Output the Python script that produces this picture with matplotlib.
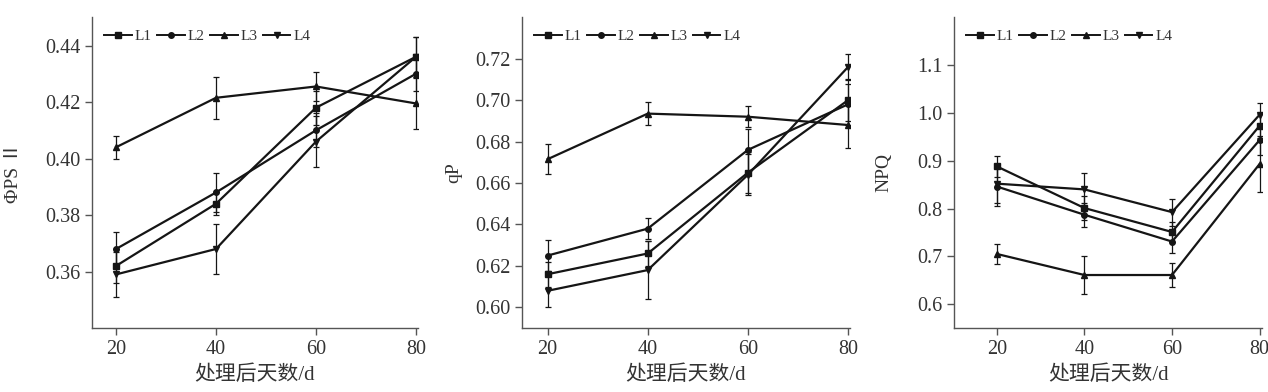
import numpy as np
import matplotlib
matplotlib.use("Agg")
import matplotlib.pyplot as plt
from matplotlib.ticker import FormatStrFormatter
from matplotlib.lines import Line2D

plt.rcParams["font.family"] = ["Liberation Serif", "Noto Sans CJK SC", "DejaVu Sans"]

# ------------------------------------------------------------
# Data
# ------------------------------------------------------------
days = [20, 40, 60, 80]
series = ["L1", "L2", "L3", "L4"]
markers = ["s", "o", "^", "v"]
msizes = [5, 4, 5, 5]

# Phi PSII
phi_L1 = [0.362, 0.384, 0.418, 0.436]
phi_L2 = [0.368, 0.388, 0.410, 0.430]
phi_L3 = [0.404, 0.4215, 0.4255, 0.4195]
phi_L4 = [0.359, 0.368, 0.406, 0.436]
phi_err_L1 = [0.006, 0.004, 0.006, 0.007]
phi_err_L2 = [0.006, 0.007, 0.006, 0.006]
phi_err_L3 = [0.004, 0.0075, 0.005, 0.009]
phi_err_L4 = [0.008, 0.009, 0.009, 0.007]

# qP
qp_L1 = [0.616, 0.626, 0.665, 0.700]
qp_L2 = [0.625, 0.638, 0.676, 0.698]
qp_L3 = [0.6715, 0.6935, 0.692, 0.688]
qp_L4 = [0.608, 0.618, 0.664, 0.716]
qp_err_L1 = [0.006, 0.006, 0.010, 0.010]
qp_err_L2 = [0.0075, 0.005, 0.010, 0.010]
qp_err_L3 = [0.0073, 0.0056, 0.005, 0.011]
qp_err_L4 = [0.008, 0.014, 0.010, 0.0065]

# NPQ
npq_L1 = [0.888, 0.801, 0.751, 0.973]
npq_L2 = [0.846, 0.787, 0.731, 0.943]
npq_L3 = [0.705, 0.661, 0.661, 0.893]
npq_L4 = [0.852, 0.840, 0.7925, 0.996]
npq_err_L1 = [0.022, 0.025, 0.020, 0.025]
npq_err_L2 = [0.040, 0.025, 0.025, 0.030]
npq_err_L3 = [0.020, 0.040, 0.025, 0.058]
npq_err_L4 = [0.040, 0.035, 0.028, 0.024]

xlabel = "处理后天数/d"

panels = [
    dict(vals=[phi_L1, phi_L2, phi_L3, phi_L4],
         errs=[phi_err_L1, phi_err_L2, phi_err_L3, phi_err_L4],
         ylabel="ΦPS Ⅱ", ylim=(0.34, 0.45), yticks=np.arange(0.36, 0.441, 0.02),
         fmt="%.2f", xlim=(15.2, 80.4), pos=[0.0726, 0.163, 0.257, 0.793], ylab_x=-0.215),
    dict(vals=[qp_L1, qp_L2, qp_L3, qp_L4],
         errs=[qp_err_L1, qp_err_L2, qp_err_L3, qp_err_L4],
         ylabel="qP", ylim=(0.59, 0.74), yticks=np.arange(0.60, 0.721, 0.02),
         fmt="%.2f", xlim=(14.9, 80.4), pos=[0.4117, 0.163, 0.2587, 0.793], ylab_x=-0.183),
    dict(vals=[npq_L1, npq_L2, npq_L3, npq_L4],
         errs=[npq_err_L1, npq_err_L2, npq_err_L3, npq_err_L4],
         ylabel="NPQ", ylim=(0.55, 1.2), yticks=np.arange(0.6, 1.11, 0.1),
         fmt="%.1f", xlim=(10.2, 80.6), pos=[0.7524, 0.163, 0.243, 0.793], ylab_x=-0.201),
]

fig = plt.figure(figsize=(12.68, 3.92), dpi=100)
ink = "#151515"
spine_c = "#555555"
text_c = "#333333"

for p in panels:
    ax = fig.add_axes(p["pos"])
    for mk, ms, v, e in zip(markers, msizes, p["vals"], p["errs"]):
        ax.errorbar(days, v, yerr=e, color=ink, marker=mk, markersize=ms,
                    linewidth=1.6, elinewidth=0.9, capsize=2.5, capthick=0.9)
    ax.set_xlim(*p["xlim"])
    ax.set_ylim(*p["ylim"])
    ax.set_xticks(days)
    ax.set_yticks(p["yticks"])
    ax.yaxis.set_major_formatter(FormatStrFormatter(p["fmt"]))
    ax.spines["top"].set_visible(False)
    ax.spines["right"].set_visible(False)
    for s in ["left", "bottom"]:
        ax.spines[s].set_color(spine_c)
        ax.spines[s].set_linewidth(1.0)
    ax.tick_params(direction="out", length=5, width=1.0, color=spine_c,
                   labelsize=14.5, labelcolor=text_c)
    ax.set_ylabel(p["ylabel"], fontsize=14, color=text_c)
    ax.yaxis.set_label_coords(p["ylab_x"], 0.5)
    ax.set_xlabel(xlabel, fontsize=15, color=text_c)
    ax.xaxis.set_label_coords(0.5, -0.119)
    handles = [Line2D([], [], color=ink, marker=mk, markersize=ms, linewidth=1.4)
               for mk, ms in zip(markers, msizes)]
    ax.legend(handles, series, loc="upper left", ncol=4, frameon=False,
              fontsize=11, handlelength=1.8, handletextpad=0.2,
              columnspacing=0.35, borderaxespad=0.4, bbox_to_anchor=(0.0, 1.0),
              labelcolor=text_c)

fig.savefig("out.png", dpi=100)
